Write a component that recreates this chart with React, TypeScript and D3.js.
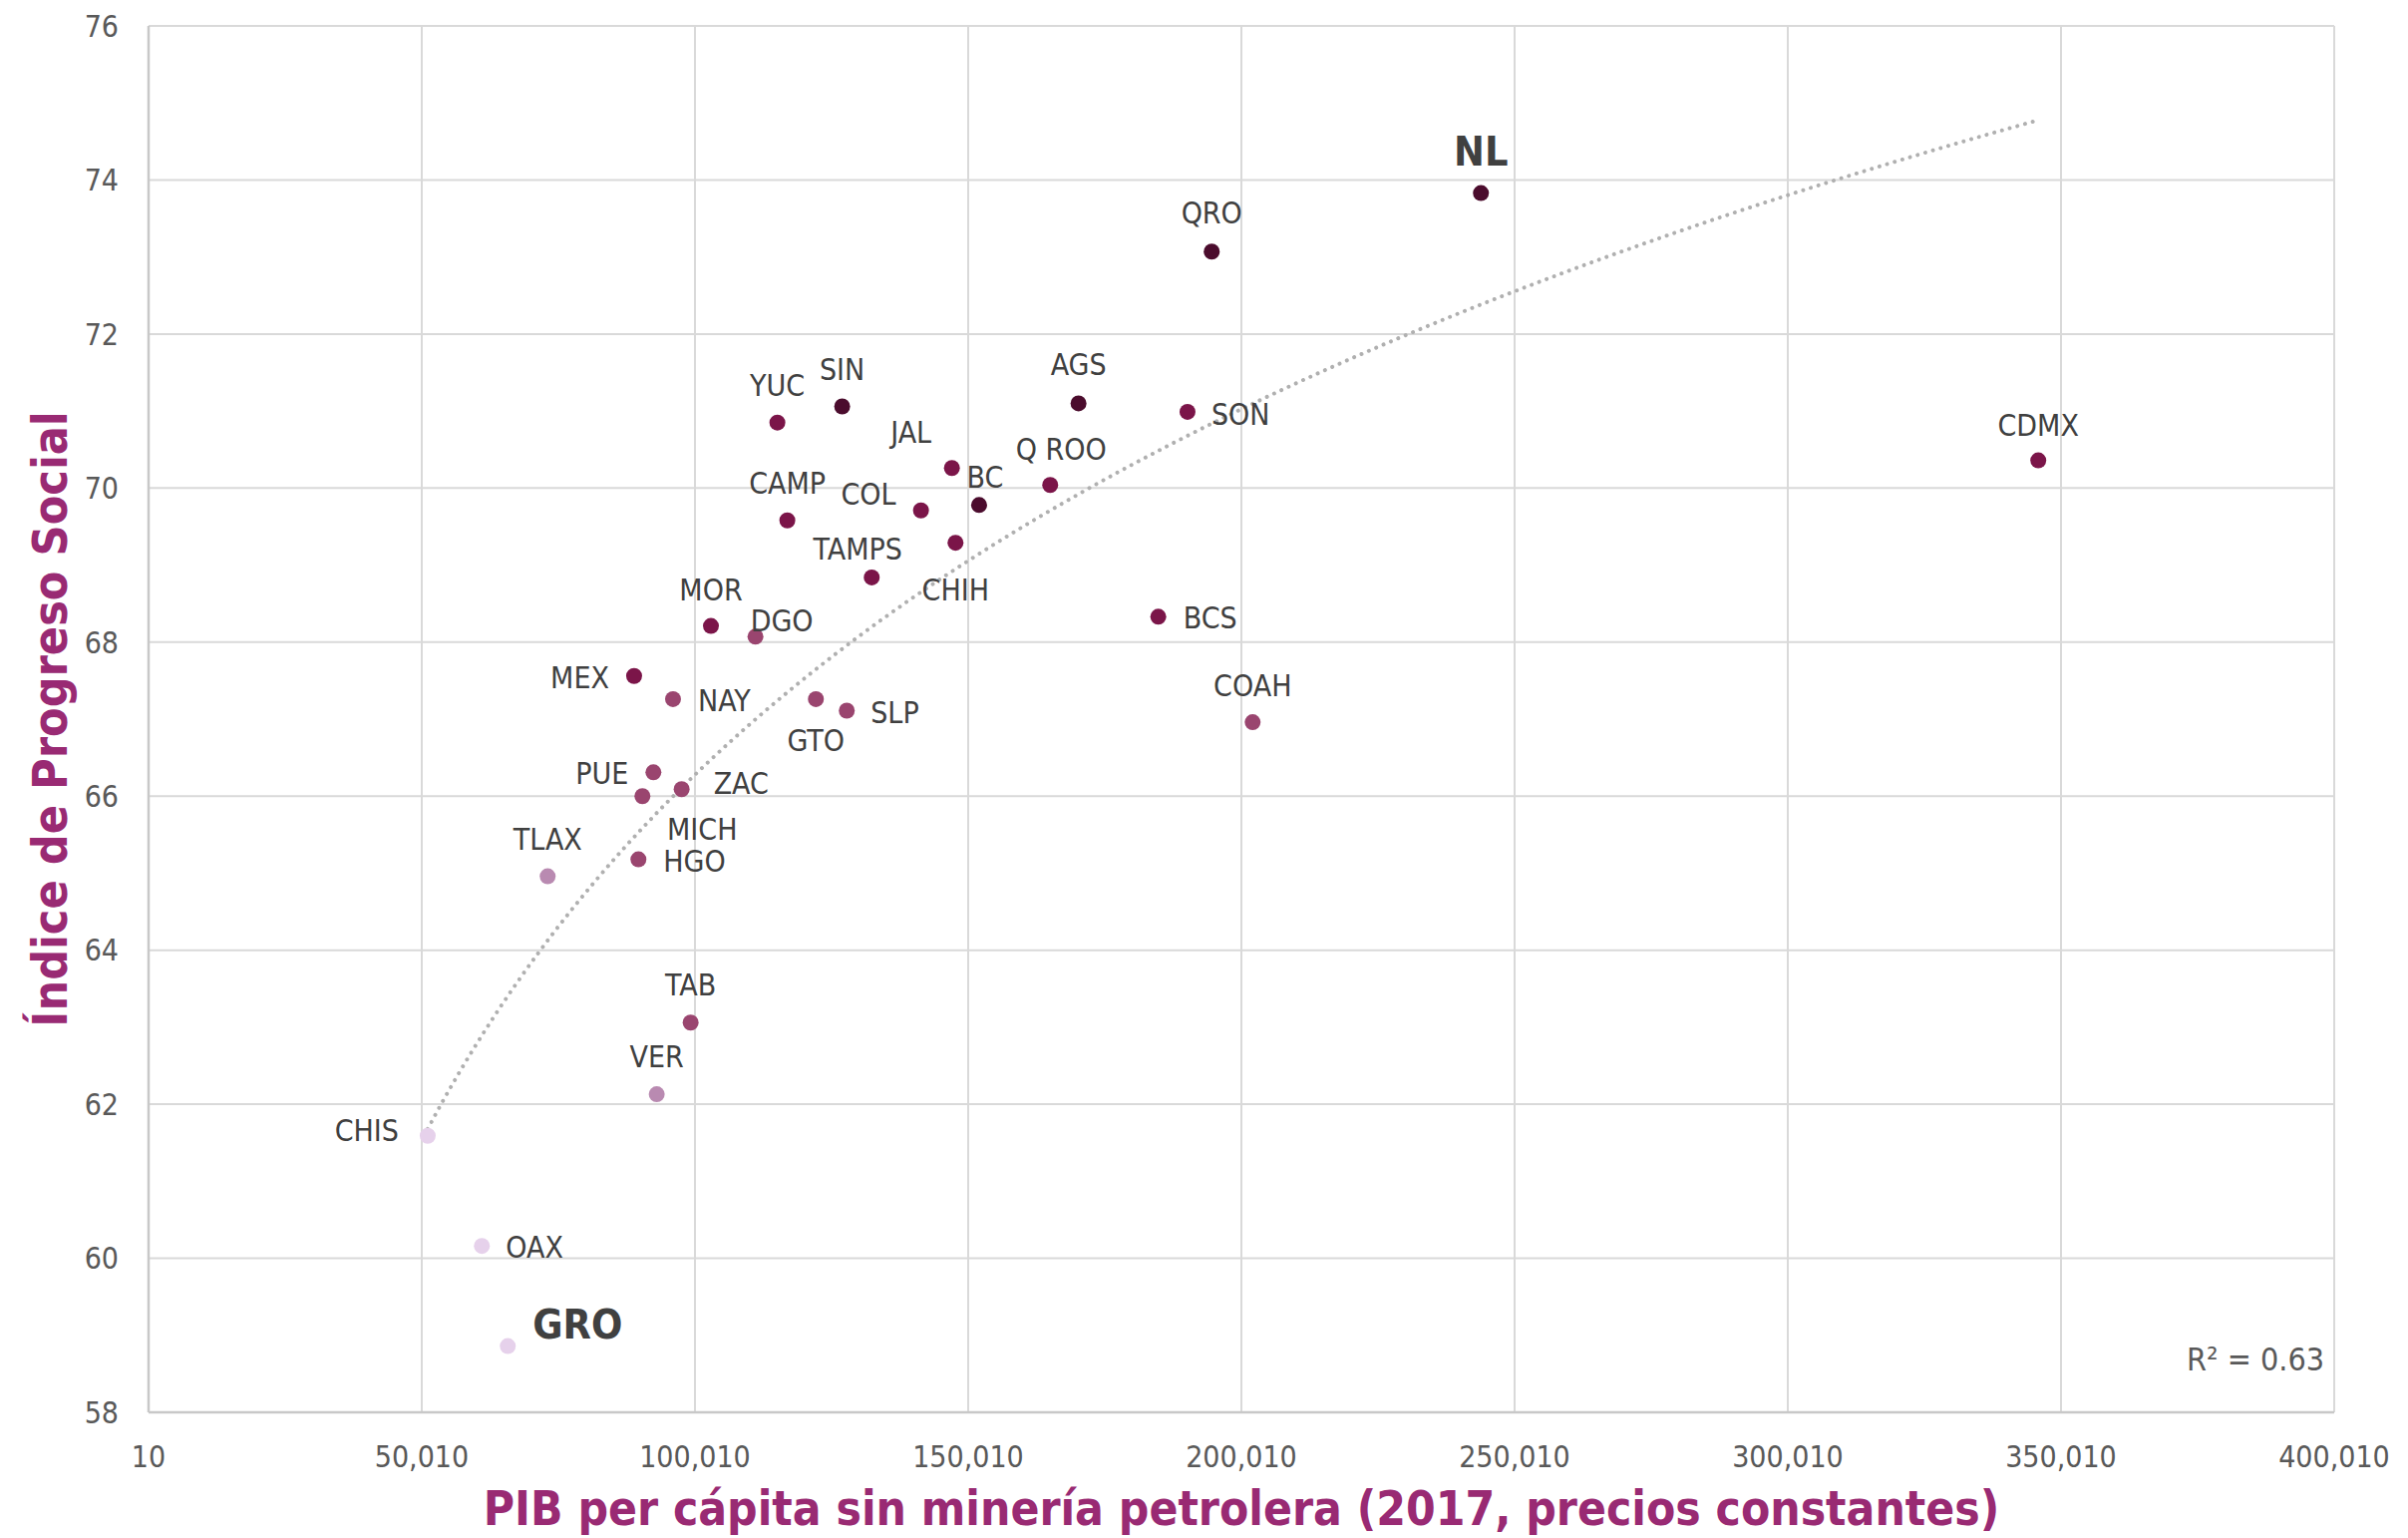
import { useMemo } from "react"
import * as d3 from "d3"

// Estados, PIB per cápita sin minería petrolera (2017) e Índice de Progreso Social
const states = [
  "NL", "QRO", "CDMX", "AGS", "SIN", "SON", "YUC", "JAL", "Q ROO", "BC", "COL",
  "CAMP", "CHIH", "TAMPS", "BCS", "MOR", "DGO", "MEX", "NAY", "GTO", "SLP", "COAH",
  "PUE", "ZAC", "MICH", "HGO", "TLAX", "TAB", "VER", "CHIS", "OAX", "GRO",
]
const pib = [
  243850, 194580, 345850, 170200, 126950, 190150, 115090, 147030, 165020, 152010, 141370,
  116910, 147690, 132360, 184800, 102930, 111080, 88870, 95990, 122140, 127790, 202070,
  92400, 97570, 90390, 89660, 73050, 99215, 93010, 51094, 61010, 65750,
]
const ips = [
  73.83, 73.07, 70.36, 71.1, 71.06, 70.99, 70.85, 70.26, 70.04, 69.78, 69.71,
  69.58, 69.29, 68.84, 68.33, 68.21, 68.07, 67.56, 67.26, 67.26, 67.11, 66.96,
  66.31, 66.09, 66.0, 65.18, 64.96, 63.06, 62.13, 61.59, 60.16, 58.86,
]
// nivel de progreso (0 = más alto)
const tier = [
  0, 0, 1, 0, 0, 1, 1, 1, 1, 0, 1,
  1, 1, 1, 1, 1, 2, 1, 2, 2, 2, 2,
  2, 2, 2, 2, 3, 2, 3, 4, 4, 4,
]
const tierColors = ["#4b0c2d", "#7b1549", "#9a456f", "#b98ab1", "#e6d1eb"]
const highlighted = ["NL", "GRO"]

const xTicks = d3.range(10, 400011, 50000)
const yTicks = d3.range(58, 77, 2)
const r2Text = "R² = 0.63"

// colocación de etiquetas: [anchor, dx, dy]
const labelPos: Record<string, [string, number, number]> = {
  NL: ["middle", 0, -28],
  QRO: ["middle", 0, -28],
  SON: ["start", 24, 13],
  CDMX: ["middle", 0, -25],
  AGS: ["middle", 0, -28],
  SIN: ["middle", 0, -26],
  YUC: ["middle", 0, -27],
  JAL: ["middle", -41, -25],
  "Q ROO": ["middle", 11, -25],
  BC: ["middle", 6, -17],
  COL: ["end", -25, -6],
  CAMP: ["middle", 0, -27],
  TAMPS: ["middle", -14, -18],
  CHIH: ["middle", 0, 58],
  MOR: ["middle", 0, -26],
  DGO: ["start", -5, -5],
  MEX: ["end", -25, 12],
  NAY: ["start", 25, 12],
  GTO: ["middle", 0, 52],
  SLP: ["start", 24, 12],
  PUE: ["end", -25, 12],
  ZAC: ["start", 32, 5],
  MICH: ["middle", 60, 44],
  HGO: ["start", 25, 12],
  TLAX: ["middle", 0, -27],
  TAB: ["middle", 0, -27],
  VER: ["middle", 0, -27],
  CHIS: ["end", -29, 5],
  OAX: ["start", 24, 12],
  GRO: ["start", 25, -8],
  BCS: ["start", 25, 12],
  COAH: ["middle", 0, -26],
}

const W = 2415
const H = 1542
const margin = { top: 26, right: 74, bottom: 126, left: 149 }
const FONT = "'DejaVu Sans Condensed', 'DejaVu Sans', sans-serif"
const PURPLE = "#992a73"

export default function App() {
  const innerW = W - margin.left - margin.right
  const innerH = H - margin.top - margin.bottom

  const x = d3.scaleLinear().domain([10, 400010]).range([0, innerW])
  const y = d3.scaleLinear().domain([58, 76]).range([innerH, 0])

  // tendencia logarítmica (mínimos cuadrados sobre ln x)
  const trendPath = useMemo(() => {
    const lx = pib.map((v) => Math.log(v))
    const mx = d3.mean(lx) || 0
    const my = d3.mean(ips) || 0
    let sxy = 0
    let sxx = 0
    lx.forEach((v, i) => {
      sxy += (v - mx) * (ips[i] - my)
      sxx += (v - mx) * (v - mx)
    })
    const b = sxy / sxx
    const a = my - b * mx
    const [x0, x1] = d3.extent(pib) as [number, number]
    const pts = d3.range(0, 201).map((i) => x0 + ((x1 - x0) * i) / 200)
    const line = d3
      .line<number>()
      .x((d) => x(d))
      .y((d) => y(a + b * Math.log(d)))
    return line(pts) || ""
  }, [])

  const fmt = d3.format(",")

  return (
    <div style={{ position: "absolute", left: 0, top: 0 }}>
      <svg width={W} height={H} style={{ display: "block", background: "#fff" }}>
        <g transform={`translate(${margin.left},${margin.top})`} fontFamily={FONT}>
          {/* rejilla */}
          {yTicks.map((t) => (
            <line key={"gy" + t} x1={0} x2={innerW} y1={y(t)} y2={y(t)} stroke="#d9d9d9" strokeWidth={2} />
          ))}
          {xTicks.map((t) => (
            <line key={"gx" + t} x1={x(t)} x2={x(t)} y1={0} y2={innerH} stroke="#d9d9d9" strokeWidth={2} />
          ))}
          <line x1={0} x2={innerW} y1={innerH} y2={innerH} stroke="#c8c8c8" strokeWidth={2.5} />
          <line x1={0} x2={0} y1={0} y2={innerH} stroke="#c8c8c8" strokeWidth={2.5} />

          {/* ticks */}
          {yTicks.map((t) => (
            <text key={"ty" + t} x={-30} y={y(t)} dy="0.36em" textAnchor="end" fontSize={30} fill="#595959">
              {t}
            </text>
          ))}
          {xTicks.map((t) => (
            <text key={"tx" + t} x={x(t)} y={innerH + 55} textAnchor="middle" fontSize={30} fill="#595959">
              {fmt(t)}
            </text>
          ))}

          {/* línea de tendencia */}
          <path
            d={trendPath}
            fill="none"
            stroke="#b0b0b0"
            strokeWidth={4}
            strokeLinecap="round"
            strokeDasharray="0.01 8"
          />

          {/* puntos */}
          {states.map((s, i) => (
            <circle key={"p" + s} cx={x(pib[i])} cy={y(ips[i])} r={8} fill={tierColors[tier[i]]} />
          ))}

          {/* etiquetas */}
          {states.map((s, i) => {
            const [anchor, dx, dy] = labelPos[s] || ["middle", 0, -26]
            const bold = highlighted.includes(s)
            return (
              <text
                key={"l" + s}
                x={x(pib[i]) + dx}
                y={y(ips[i]) + dy}
                textAnchor={anchor as any}
                fontSize={bold ? 41 : 30}
                fontWeight={bold ? "bold" : "normal"}
                fill="#404040"
              >
                {s}
              </text>
            )
          })}

          <text x={innerW - 10} y={y(58.54)} textAnchor="end" fontSize={32} fill="#595959">
            {r2Text}
          </text>

          {/* títulos de ejes */}
          <text
            x={innerW / 2}
            y={innerH + 113}
            textAnchor="middle"
            fontSize={47.5}
            fontWeight="bold"
            fill={PURPLE}
          >
            PIB per cápita sin minería petrolera (2017, precios constantes)
          </text>
          <text
            transform={`translate(${67 - margin.left},${innerH / 2}) rotate(-90)`}
            textAnchor="middle"
            fontSize={48}
            fontWeight="bold"
            fill={PURPLE}
          >
            Índice de Progreso Social
          </text>
        </g>
      </svg>
    </div>
  )
}
